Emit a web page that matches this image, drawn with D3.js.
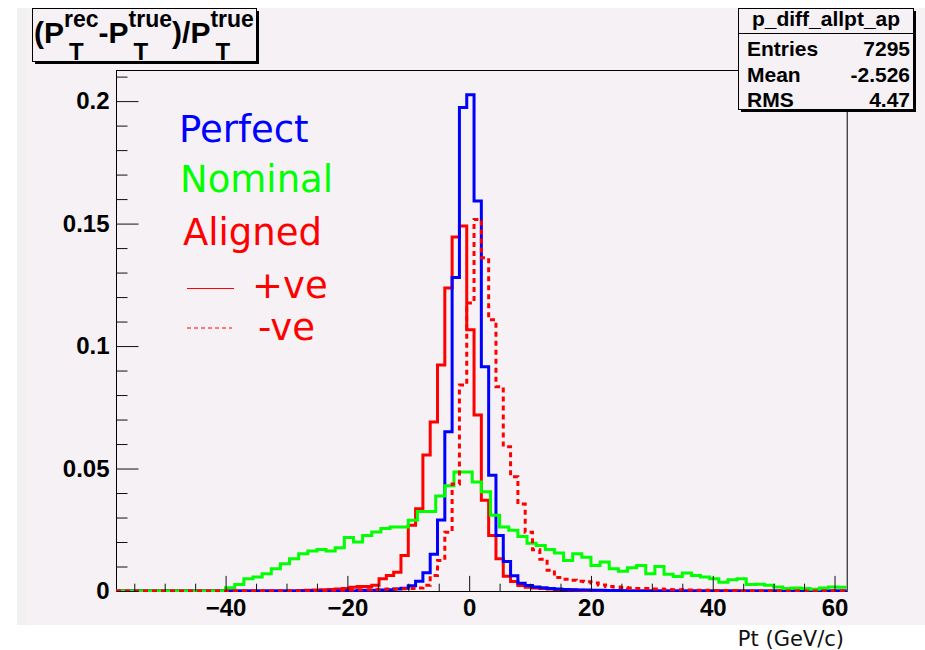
<!DOCTYPE html>
<html>
<head>
<meta charset="utf-8">
<script src="https://cdn.jsdelivr.net/npm/d3@7"></script>
<style>
  body { margin: 0; background: #ffffff; }
  svg { display: block; }
</style>
</head>
<body>
<svg id="chart" width="925" height="650"></svg>
<script>
// ---- Histogram binning -------------------------------------------------
// Perfect / Aligned histograms: 100 bins of 1.2 GeV/c over [-58, 62]
const fineLow = -58, fineWidth = 1.2;
// Nominal histogram: 80 bins of 1.5 GeV/c over [-58, 62]
const coarseLow = -58, coarseWidth = 1.5;

// ---- Bin contents (normalised) -----------------------------------------
const perfect = [
  0, 0, 0, 0, 0, 0, 0, 0, 0, 0,
  0, 0, 0, 0, 0, 0, 0, 0, 0, 0,
  0, 0, 0, 0, 0, 0, 0, 0, 0, 0,
  0, 0, 0, 0.0002, 0.0003, 0.0003, 0.0004, 0.0005, 0.0008, 0.0011,
  0.0021, 0.0040, 0.0074, 0.0150, 0.0290, 0.0650, 0.1280, 0.1974, 0.2026, 0.1592,
  0.0916, 0.0473, 0.0227, 0.0120, 0.0062, 0.0032, 0.0022, 0.0016, 0.0013, 0.0010,
  0.0008, 0.0006, 0.0005, 0.0004, 0.0004, 0.0003, 0.0003, 0.0002, 0.0002, 0.0001,
  0, 0, 0, 0, 0, 0, 0, 0, 0, 0,
  0, 0, 0, 0, 0, 0, 0, 0, 0, 0,
  0, 0, 0, 0, 0, 0, 0, 0, 0, 0
];

const alignedPlus = [
  0, 0, 0, 0, 0, 0, 0, 0, 0, 0,
  0, 0, 0, 0, 0, 0, 0, 0, 0, 0,
  0, 0, 0, 0, 0, 0.0002, 0.0003, 0.0004, 0.0005, 0.0006,
  0.0008, 0.0010, 0.0015, 0.0018, 0.0018, 0.0023, 0.0050, 0.0063, 0.0077, 0.0145,
  0.0268, 0.0336, 0.0555, 0.0690, 0.0923, 0.1237, 0.1445, 0.1490, 0.1067, 0.0719,
  0.0370, 0.0227, 0.0132, 0.0060, 0.0039, 0.0022, 0.0015, 0.0012, 0.0010, 0.0008,
  0.0006, 0.0005, 0.0004, 0.0003, 0.0002, 0, 0, 0, 0, 0,
  0, 0, 0, 0, 0, 0, 0, 0, 0, 0,
  0, 0, 0, 0, 0, 0, 0, 0, 0, 0,
  0, 0, 0, 0, 0, 0, 0, 0, 0, 0
];

const alignedMinus = [
  0, 0, 0, 0, 0, 0, 0, 0, 0, 0,
  0, 0, 0, 0, 0, 0, 0, 0, 0, 0,
  0, 0, 0, 0, 0, 0, 0, 0.0002, 0.0002, 0.0003,
  0.0003, 0.0004, 0.0004, 0.0005, 0.0005, 0.0006, 0.0007, 0.0008, 0.0008, 0.0009,
  0.0010, 0.0012, 0.0023, 0.0063, 0.0125, 0.0240, 0.0437, 0.0841, 0.1176, 0.1517,
  0.1360, 0.1107, 0.0834, 0.0589, 0.0466, 0.0355, 0.0240, 0.0168, 0.0130, 0.0085,
  0.0055, 0.0048, 0.0044, 0.0040, 0.0038, 0.0033, 0.0025, 0.0018, 0.0016, 0.0014,
  0.0012, 0.0010, 0.0010, 0.0008, 0.0008, 0.0006, 0.0005, 0.0005, 0.0004, 0.0003,
  0.0003, 0.0002, 0.0002, 0.0002, 0.0002, 0, 0, 0, 0, 0,
  0, 0, 0, 0, 0, 0, 0, 0, 0, 0
];

const nominal = [
  0, 0, 0, 0, 0, 0, 0, 0, 0, 0,
  0, 0, 0.0013, 0.0027, 0.0050, 0.0057, 0.0070, 0.0091, 0.0111, 0.0132,
  0.0152, 0.0163, 0.0169, 0.0163, 0.0177, 0.0218, 0.0200, 0.0227, 0.0241, 0.0255,
  0.0261, 0.0261, 0.0289, 0.0325, 0.0325, 0.0388, 0.0430, 0.0486, 0.0486, 0.0445,
  0.0405, 0.0309, 0.0261, 0.0248, 0.0222, 0.0195, 0.0186, 0.0169, 0.0155, 0.0125,
  0.0152, 0.0138, 0.0104, 0.0118, 0.0091, 0.0081, 0.0095, 0.0104, 0.0070, 0.0100,
  0.0068, 0.0059, 0.0073, 0.0063, 0.0057, 0.0050, 0.0036, 0.0046, 0.0050, 0.0027,
  0.0028, 0.0023, 0.0016, 0.0010, 0.0012, 0.0010, 0.0007, 0.0012, 0.0016, 0.0015
];

// ---- Axis ticks and labels ---------------------------------------------
const xRange = [-58, 62];
const yRange = [0, 0.2127];
const xMajorTicks = [-40, -20, 0, 20, 40, 60];
const xMinorTicks = [-55, -50, -45, -35, -30, -25, -15, -10, -5, 5, 10, 15, 25, 30, 35, 45, 50, 55];
const yMajorTicks = [0, 0.05, 0.1, 0.15, 0.2];
const yTickLabels = ["0", "0.05", "0.1", "0.15", "0.2"];
const yMinorTicks = [0.01, 0.02, 0.03, 0.04, 0.06, 0.07, 0.08, 0.09, 0.11, 0.12, 0.13, 0.14,
                     0.16, 0.17, 0.18, 0.19, 0.21];

// ---- Statistics box ----------------------------------------------------
const statsName = "p_diff_allpt_ap";
const statsLabels = ["Entries", "Mean", "RMS"];
const statsValues = ["7295", "-2.526", "4.47"];

// ---- Legend --------------------------------------------------------------
const legendNames = ["Perfect", "Nominal", "Aligned"];
const legendColors = ["#0000ff", "#00ff00", "#ff0000"];
const chargeNames = ["+ve", "-ve"];

const xTitle = "Pt (GeV/c)";

// ========================================================================
const svg = d3.select("#chart");
const bg = "#f5f1f5";
const boldFont = "'Liberation Sans', Arial, Helvetica, sans-serif";
const plainFont = "'DejaVu Sans', Verdana, sans-serif";

const frame = { l: 116, r: 846.7, t: 70, b: 591 };

// canvas / pad background
svg.append("rect").attr("x", 17).attr("y", 8).attr("width", 10).attr("height", 617).attr("fill", "#f1f1f1");
svg.append("rect").attr("x", 27).attr("y", 8).attr("width", 898).attr("height", 617).attr("fill", bg);

const x = d3.scaleLinear().domain(xRange).range([frame.l, frame.r]);
const y = d3.scaleLinear().domain(yRange).range([frame.b, frame.t]);

// frame
svg.append("rect")
  .attr("x", frame.l + 0.5).attr("y", frame.t + 0.5)
  .attr("width", frame.r - frame.l).attr("height", frame.b - frame.t)
  .attr("fill", "none").attr("stroke", "#000").attr("stroke-width", 1);

// clip histograms to the frame
svg.append("defs").append("clipPath").attr("id", "frameClip")
  .append("rect")
  .attr("x", frame.l).attr("y", frame.t)
  .attr("width", frame.r - frame.l).attr("height", frame.b - frame.t + 1);

function stepPoints(values, low, width) {
  const pts = values.map((v, i) => [low + i * width, v]);
  pts.push([low + values.length * width, values[values.length - 1]]);
  return pts;
}

const stepLine = d3.line()
  .x(d => x(d[0]))
  .y(d => y(d[1]))
  .curve(d3.curveStepAfter);

const hists = svg.append("g").attr("clip-path", "url(#frameClip)");

const series = [
  { values: alignedPlus, low: fineLow, width: fineWidth, color: "#ff0000", dash: null },
  { values: perfect, low: fineLow, width: fineWidth, color: "#0000ff", dash: null },
  { values: nominal, low: coarseLow, width: coarseWidth, color: "#00ff00", dash: null },
  { values: alignedMinus, low: fineLow, width: fineWidth, color: "#ff0000", dash: "5,4" }
];

series.forEach(s => {
  hists.append("path")
    .datum(stepPoints(s.values, s.low, s.width))
    .attr("d", stepLine)
    .attr("fill", "none")
    .attr("stroke", s.color)
    .attr("stroke-width", 3)
    .attr("stroke-linejoin", "miter")
    .attr("stroke-dasharray", s.dash);
});

// ---- axes (ticks pointing into the frame) ----
function styleAxis(g) {
  g.select(".domain").remove();
  g.selectAll(".tick line").attr("stroke", "#111").attr("stroke-width", 1);
  g.selectAll(".tick text")
    .attr("fill", "#000")
    .style("font-family", boldFont)
    .style("font-weight", "bold")
    .style("font-size", "24px");
}

svg.append("g")
  .attr("transform", `translate(0,${frame.b + 0.5})`)
  .call(d3.axisBottom(x).tickValues(xMinorTicks).tickSize(-7.8).tickFormat(""))
  .call(styleAxis);

svg.append("g")
  .attr("transform", `translate(0,${frame.b + 0.5})`)
  .call(d3.axisBottom(x).tickValues(xMajorTicks).tickSize(-15.6).tickPadding(7).tickFormat(d3.format("d")))
  .call(styleAxis);

svg.append("g")
  .attr("transform", `translate(${frame.l + 0.5},0)`)
  .call(d3.axisLeft(y).tickValues(yMinorTicks).tickSize(-11).tickFormat(""))
  .call(styleAxis);

svg.append("g")
  .attr("transform", `translate(${frame.l + 0.5},0)`)
  .call(d3.axisLeft(y).tickValues(yMajorTicks).tickSize(-22).tickPadding(7)
        .tickFormat((d, i) => yTickLabels[i]))
  .call(styleAxis);

// x-axis title (below the pad)
svg.append("text")
  .attr("x", 844).attr("y", 646)
  .attr("text-anchor", "end")
  .style("font-family", plainFont)
  .style("font-size", "21px")
  .attr("fill", "#111")
  .text(xTitle);

// ---- legend text ----
const legendBaselines = [142, 192, 245];
const legendX = [179, 180, 183];
legendNames.forEach((name, i) => {
  svg.append("text")
    .attr("x", legendX[i]).attr("y", legendBaselines[i])
    .style("font-family", plainFont)
    .style("font-size", "37px")
    .attr("fill", legendColors[i])
    .text(name);
});

svg.append("line")
  .attr("x1", 187).attr("x2", 234).attr("y1", 288.5).attr("y2", 288.5)
  .attr("stroke", "#ff0000").attr("stroke-width", 1);
svg.append("line")
  .attr("x1", 187).attr("x2", 232).attr("y1", 328).attr("y2", 328)
  .attr("stroke", "#ff0000").attr("stroke-width", 1)
  .attr("stroke-dasharray", "4,3");

svg.append("text")
  .attr("x", 252).attr("y", 298)
  .style("font-family", plainFont).style("font-size", "37px")
  .attr("fill", "#ff0000").text(chargeNames[0]);
svg.append("text")
  .attr("x", 258).attr("y", 340)
  .style("font-family", plainFont).style("font-size", "37px")
  .attr("fill", "#ff0000").text(chargeNames[1]);

// ---- statistics box ----
const stats = svg.append("g");
stats.append("rect").attr("x", 741).attr("y", 11).attr("width", 175).attr("height", 101).attr("fill", "#000");
stats.append("rect").attr("x", 738.5).attr("y", 8.5).attr("width", 175).attr("height", 101)
  .attr("fill", bg).attr("stroke", "#000").attr("stroke-width", 1);
stats.append("line").attr("x1", 738.5).attr("x2", 913.5).attr("y1", 33.5).attr("y2", 33.5)
  .attr("stroke", "#000").attr("stroke-width", 1);
stats.append("text")
  .attr("x", 826).attr("y", 26).attr("text-anchor", "middle")
  .style("font-family", boldFont).style("font-weight", "bold").style("font-size", "21px")
  .text(statsName);
const statsBaselines = [56, 82, 107];
statsLabels.forEach((lab, i) => {
  stats.append("text")
    .attr("x", 747).attr("y", statsBaselines[i])
    .style("font-family", boldFont).style("font-weight", "bold").style("font-size", "21px")
    .text(lab);
  stats.append("text")
    .attr("x", 910).attr("y", statsBaselines[i]).attr("text-anchor", "end")
    .style("font-family", boldFont).style("font-weight", "bold").style("font-size", "21px")
    .text(statsValues[i]);
});

// ---- title box: (P_T^rec - P_T^true)/P_T^true ----
const tbox = svg.append("g");
tbox.append("rect").attr("x", 35).attr("y", 11).attr("width", 224).attr("height", 53).attr("fill", "#000");
tbox.append("rect").attr("x", 32.5).attr("y", 8.5).attr("width", 224).attr("height", 53)
  .attr("fill", bg).attr("stroke", "#000").attr("stroke-width", 1);

// Laid out left to right: each main glyph / superscript advances the cursor,
// subscripts sit under the superscript that precedes them.
const title = tbox.append("text")
  .style("font-family", boldFont).style("font-weight", "bold").attr("fill", "#000");
const mainSize = 30, supSize = 23, subSize = 24;
const mainBase = 43, supBase = 27, subBase = 60;
let cursor = 34;
function piece(str, size, base) {
  const t = title.append("tspan").attr("x", cursor).attr("y", base)
    .style("font-size", size + "px").text(str);
  const w = t.node().getComputedTextLength();
  return w;
}
function mainText(str) { cursor += piece(str, mainSize, mainBase); }
function scripted(sup, sub) {
  const start = cursor;
  const wSup = piece(sup, supSize, supBase);
  cursor = start + 5;
  const wSub = piece(sub, subSize, subBase);
  cursor = start + Math.max(wSup, wSub + 5);
}
mainText("(");
mainText("P");
scripted("rec", "T");
mainText("-");
mainText("P");
scripted("true", "T");
mainText(")");
mainText("/");
mainText("P");
scripted("true", "T");
</script>
</body>
</html>
